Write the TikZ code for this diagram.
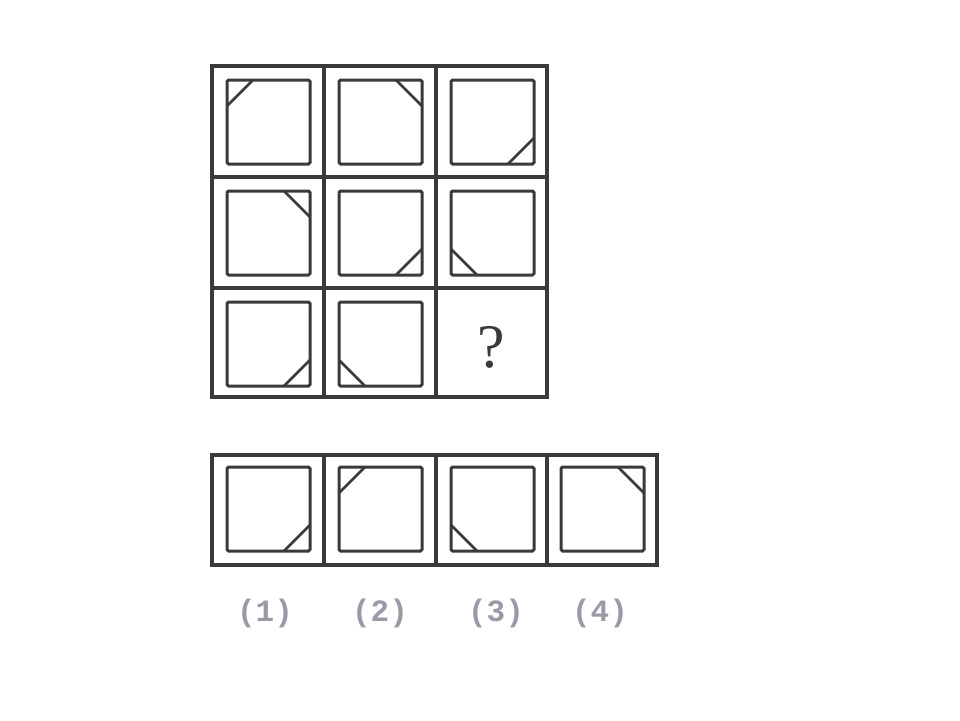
\documentclass[tikz,border=0pt]{standalone}
\usepackage{fontspec}
\newfontfamily\labfont{Liberation Mono}
\newfontfamily\qfont{Liberation Serif}
\definecolor{ink}{HTML}{3A3A3A}
\definecolor{labgray}{HTML}{9A9AA6}
\tikzset{
  frame/.style={draw=ink, line width=3.4pt},
  inner/.style={draw=ink, line width=3pt, rounded corners=1.5pt},
  cornerline/.style={draw=ink, line width=2.8pt},
  lab/.style={text=labgray, font=\labfont\bfseries\fontsize{31}{34}\selectfont},
}
% \mycell{x}{y}{corner}: cell top-left (x,y), size 112
\newcommand{\mycell}[3]{%
  \draw[inner] (#1+15,#2+14) rectangle (#1+98,#2+98);
  \ifcase#3\relax
  \or \draw[cornerline] (#1+15,#2+40) -- (#1+41,#2+14);% TL
  \or \draw[cornerline] (#1+72,#2+14) -- (#1+98,#2+40);% TR
  \or \draw[cornerline] (#1+98,#2+72) -- (#1+72,#2+98);% BR
  \or \draw[cornerline] (#1+15,#2+72) -- (#1+41,#2+98);% BL
  \fi}
\begin{document}
\begin{tikzpicture}[x=1pt,y=-1pt]
\useasboundingbox (0,0) rectangle (960,720);
% grid
\draw[frame] (212,66) rectangle (547,397);
\draw[frame] (324,66) -- (324,397);
\draw[frame] (436,66) -- (436,397);
\draw[frame] (212,177) -- (547,177);
\draw[frame] (212,288) -- (547,288);
\mycell{212}{66}{1}
\mycell{324}{66}{2}
\mycell{436}{66}{3}
\mycell{212}{177}{2}
\mycell{324}{177}{3}
\mycell{436}{177}{4}
\mycell{212}{288}{3}
\mycell{324}{288}{4}
\node[font=\qfont\fontsize{62}{66}\selectfont, text=ink] (q) at (491,347) {?};
% answers
\draw[frame] (212,455) rectangle (657,565);
\draw[frame] (324,455) -- (324,565);
\draw[frame] (436,455) -- (436,565);
\draw[frame] (547,455) -- (547,565);
\mycell{212}{453}{3}
\mycell{324}{453}{1}
\mycell{436}{453}{4}
\mycell{546}{453}{2}
\node[lab] (l1) at (265,613) {(1)};
\node[lab] (l2) at (380,613) {(2)};
\node[lab] (l3) at (496,613) {(3)};
\node[lab] (l4) at (600,613) {(4)};
\end{tikzpicture}
\end{document}
